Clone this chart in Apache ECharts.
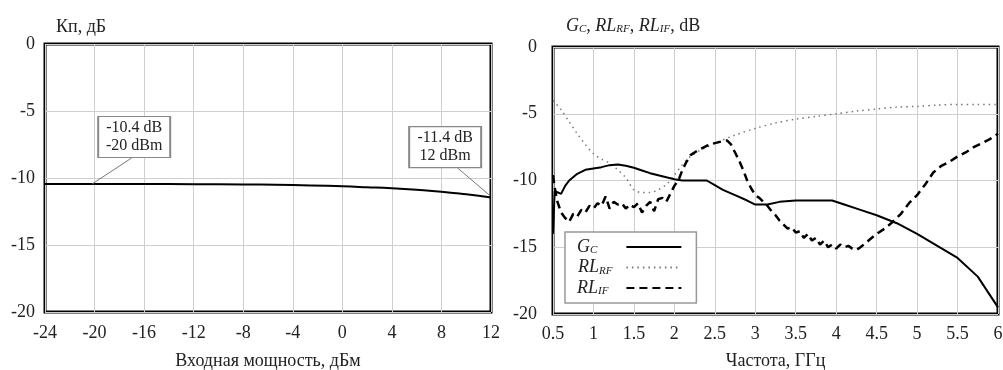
<!DOCTYPE html>
<html>
<head>
<meta charset="utf-8">
<script src="https://cdn.jsdelivr.net/npm/echarts@6/dist/echarts.min.js"></script>
<style>
html, body { margin: 0; padding: 0; background: #fff; }
#main { width: 1003px; height: 370px; }
</style>
</head>
<body>
<div id="main"></div>
<script>
// left chart: gain vs input power
var powerX = [-24, -20, -16, -12, -8, -4, 0, 2, 4, 6, 8, 10, 12];
var gainKp = [-10.45, -10.45, -10.45, -10.46, -10.48, -10.52, -10.62, -10.69, -10.77, -10.88, -11.02, -11.22, -11.45];

// right chart: vs frequency
var gcF = [0.5, 0.51, 0.52, 0.56, 0.6, 0.65, 0.7, 0.8, 0.9, 1.0, 1.1, 1.2, 1.3, 1.4, 1.5, 1.6, 1.7, 1.8, 1.9, 2.0, 2.1, 2.4, 2.5, 2.6, 2.75, 2.9, 3.0, 3.15, 3.3, 3.5, 3.95, 4.1, 4.3, 4.5, 4.75, 5.0, 5.25, 5.5, 5.75, 6.0];
var gcV = [-14.0, -12.5, -10.8, -10.9, -11.0, -10.4, -10.0, -9.5, -9.2, -9.1, -9.0, -8.85, -8.8, -8.9, -9.05, -9.25, -9.45, -9.6, -9.75, -9.9, -10.0, -10.0, -10.35, -10.7, -11.1, -11.5, -11.8, -11.8, -11.6, -11.5, -11.5, -11.8, -12.2, -12.6, -13.2, -14.0, -14.9, -15.8, -17.2, -19.5];

var rfF = [0.5, 0.6, 0.7, 0.8, 0.9, 1.0, 1.1, 1.2, 1.3, 1.4, 1.5, 1.6, 1.7, 1.8, 1.9, 2.0, 2.1, 2.2, 2.3, 2.4, 2.5, 2.75, 3.0, 3.25, 3.5, 3.75, 4.0, 4.25, 4.5, 4.75, 5.0, 5.25, 5.5, 5.75, 6.0];
var rfV = [-4.0, -4.7, -5.6, -6.5, -7.3, -8.0, -8.4, -8.7, -9.2, -9.8, -10.7, -10.9, -10.9, -10.7, -10.3, -9.6, -8.8, -8.2, -7.8, -7.5, -7.2, -6.6, -6.1, -5.7, -5.4, -5.2, -5.0, -4.8, -4.65, -4.5, -4.45, -4.35, -4.3, -4.3, -4.3];

var ifF = [0.5, 0.52, 0.55, 0.6, 0.65, 0.7, 0.75, 0.8, 0.85, 0.9, 0.95, 1.0, 1.05, 1.1, 1.15, 1.2, 1.25, 1.3, 1.35, 1.4, 1.45, 1.5, 1.55, 1.6, 1.65, 1.7, 1.75, 1.8, 1.85, 1.9, 1.95, 2.0, 2.05, 2.1, 2.15, 2.2, 2.3, 2.4, 2.5, 2.6, 2.65, 2.7, 2.75, 2.8, 2.85, 2.9, 2.95, 3.0, 3.05, 3.1, 3.15, 3.2, 3.25, 3.3, 3.35, 3.4, 3.45, 3.5, 3.55, 3.6, 3.65, 3.7, 3.75, 3.8, 3.85, 3.9, 3.95, 4.0, 4.05, 4.1, 4.15, 4.2, 4.25, 4.3, 4.4, 4.5, 4.6, 4.7, 4.8, 4.9, 5.0, 5.1, 5.2, 5.3, 5.4, 5.5, 5.6, 5.7, 5.8, 5.9, 6.0];
var ifV = [-9.6, -10.5, -11.5, -12.4, -12.8, -13.1, -12.5, -12.7, -12.2, -12.4, -11.9, -12.1, -11.7, -11.9, -11.2, -12.1, -11.6, -11.8, -11.7, -12.1, -11.8, -12.0, -11.7, -12.4, -11.9, -11.6, -12.3, -11.4, -11.3, -11.6, -11.0, -10.4, -10.0, -9.2, -8.6, -8.1, -7.7, -7.4, -7.2, -7.05, -7.0, -7.3, -7.9, -8.5, -9.2, -10.0, -10.6, -11.1, -11.3, -11.6, -11.9, -12.3, -12.6, -13.0, -13.3, -13.6, -13.5, -13.9, -13.8, -14.3, -14.0, -14.5, -14.3, -14.8, -14.5, -15.0, -14.8, -15.1, -14.8, -15.0, -14.9, -15.1, -15.2, -15.0, -14.5, -14.0, -13.6, -13.1, -12.5, -11.7, -11.1, -10.3, -9.4, -8.9, -8.6, -8.2, -7.9, -7.5, -7.2, -6.9, -6.5];

function pairs(xs, ys) {
    var out = [];
    for (var i = 0; i < xs.length; i++) out.push([xs[i], ys[i]]);
    return out;
}

var font = 'Liberation Serif';
var txt = '#222';
var fs = 18;

var chart = echarts.init(document.getElementById('main'));

var gridStyle = {
    show: true,
    borderColor: '#000',
    borderWidth: 3,
    backgroundColor: 'transparent',
    containLabel: false,
    outerBoundsMode: 'none'
};

var splitLine = { show: true, lineStyle: { color: '#cfcfcf', width: 1 } };

var subRich = {
    i: { fontFamily: font, fontSize: fs, fontStyle: 'italic', color: txt },
    s: { fontFamily: font, fontSize: 11, fontStyle: 'italic', color: txt, padding: [7, 0, 0, 0] },
    n: { fontFamily: font, fontSize: fs, color: txt }
};

var option = {
    animation: false,
    textStyle: { fontFamily: font },
    title: [
        {
            text: 'Кп, дБ',
            left: 51, top: 13,
            textStyle: { fontFamily: font, fontSize: fs, fontWeight: 'normal', color: txt }
        },
        {
            text: '{i|G}{s|C}{n|, }{i|RL}{s|RF}{n|, }{i|RL}{s|IF}{n|, dB}',
            left: 561, top: 12,
            textStyle: {
                fontFamily: font, fontSize: fs, fontWeight: 'normal', color: txt,
                rich: subRich
            }
        }
    ],
    legend: {
        data: ['Gc', 'RLrf', 'RLif'],
        orient: 'vertical',
        left: 565, top: 232,
        align: 'right',
        itemWidth: 55,
        itemHeight: 14,
        itemGap: 2.5,
        padding: [6, 14, 6, 12],
        borderColor: '#999',
        borderWidth: 1.5,
        backgroundColor: '#fff',
        itemStyle: { opacity: 0 },
        formatter: function (name) {
            if (name === 'Gc') return '{i|G}{s|C}{p1| }';
            if (name === 'RLrf') return '{i|RL}{s|RF}{p2| }';
            return '{i|RL}{s|IF}{p3| }';
        },
        textStyle: {
            fontFamily: font, color: txt,
            rich: {
                i: { fontFamily: font, fontSize: fs, fontStyle: 'italic', color: txt, lineHeight: 20 },
                s: { fontFamily: font, fontSize: 11, fontStyle: 'italic', color: txt, padding: [7, 0, 0, 0], lineHeight: 20 },
                p1: { width: 24, lineHeight: 20 },
                p2: { width: 9, lineHeight: 20 },
                p3: { width: 13, lineHeight: 20 }
            }
        }
    },
    grid: [
        Object.assign({ left: 45, top: 44, width: 446, height: 268 }, gridStyle),
        Object.assign({ left: 553, top: 47, width: 445, height: 267 }, gridStyle)
    ],
    xAxis: [
        {
            gridIndex: 0, type: 'value',
            min: -24, max: 12, interval: 4,
            name: 'Входная мощность, дБм',
            nameLocation: 'middle', nameGap: 40,
            nameTextStyle: { fontFamily: font, fontSize: fs, color: txt },
            axisLine: { show: false },
            axisTick: { show: false },
            axisLabel: { fontFamily: font, fontSize: fs, color: txt, margin: 12 },
            splitLine: splitLine
        },
        {
            gridIndex: 1, type: 'value',
            min: 0.5, max: 6, interval: 0.5,
            name: 'Частота, ГГц',
            nameLocation: 'middle', nameGap: 38,
            nameTextStyle: { fontFamily: font, fontSize: fs, color: txt },
            axisLine: { show: false },
            axisTick: { show: false },
            axisLabel: { fontFamily: font, fontSize: fs, color: txt, margin: 11 },
            splitLine: splitLine
        }
    ],
    yAxis: [
        {
            gridIndex: 0, type: 'value',
            min: -20, max: 0, interval: 5,
            axisLine: { show: false },
            axisTick: { show: false },
            axisLabel: { fontFamily: font, fontSize: fs, color: txt, margin: 10 },
            splitLine: splitLine
        },
        {
            gridIndex: 1, type: 'value',
            min: -20, max: 0, interval: 5,
            axisLine: { show: false },
            axisTick: { show: false },
            axisLabel: { fontFamily: font, fontSize: fs, color: txt, margin: 16 },
            splitLine: splitLine
        }
    ],
    series: [
        {
            name: 'Kp',
            type: 'line',
            xAxisIndex: 0, yAxisIndex: 0,
            data: pairs(powerX, gainKp),
            symbol: 'none',
            smooth: true,
            lineStyle: { color: '#000', width: 2 },
            markLine: {
                silent: true,
                symbol: 'none',
                label: { show: false },
                lineStyle: { color: '#777', width: 1, type: 'solid' },
                data: [
                    [{ coord: [-20.2, -10.45] }, { coord: [-17, -8.5] }],
                    [{ coord: [9.3, -9.25] }, { coord: [11.9, -11.3] }]
                ]
            },
            markPoint: {
                silent: true,
                symbol: 'rect',
                symbolSize: [72, 41],
                itemStyle: { color: '#fff', borderColor: '#888', borderWidth: 1.5 },
                label: {
                    show: true, position: 'inside',
                    fontFamily: font, fontSize: 16, lineHeight: 18, color: txt
                },
                data: [
                    { coord: [-16.8, -6.94], value: '-10.4 dB\n-20 dBm' },
                    { coord: [8.3, -7.7], value: '-11.4 dB\n12 dBm' }
                ]
            }
        },
        {
            name: 'Gc',
            type: 'line',
            xAxisIndex: 1, yAxisIndex: 1,
            data: pairs(gcF, gcV),
            symbol: 'none',
            lineStyle: { color: '#000', width: 2 },
            z: 4
        },
        {
            name: 'RLrf',
            type: 'line',
            xAxisIndex: 1, yAxisIndex: 1,
            data: pairs(rfF, rfV),
            symbol: 'none',
            smooth: 0.3,
            lineStyle: { color: '#777', width: 1.5, type: [1.5, 4] },
            z: 3
        },
        {
            name: 'RLif',
            type: 'line',
            xAxisIndex: 1, yAxisIndex: 1,
            data: pairs(ifF, ifV),
            symbol: 'none',
            lineStyle: { color: '#000', width: 2.5, type: [8, 5] },
            z: 3
        }
    ]
};

chart.setOption(option);
</script>
</body>
</html>
